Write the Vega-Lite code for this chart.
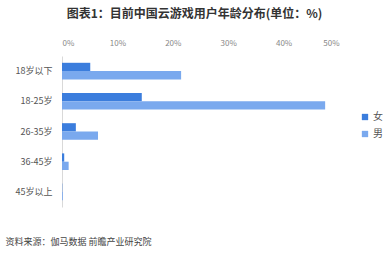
{
  "$schema": "https://vega.github.io/schema/vega-lite/v6.json",
  "width": 277,
  "height": 151,
  "autosize": {"type": "none"},
  "padding": {"left": 62, "top": 56, "right": 49, "bottom": 47},
  "background": "white",
  "title": {
    "text": "图表1：目前中国云游戏用户年龄分布(单位：%)",
    "font": "Noto Sans CJK SC",
    "fontSize": 12,
    "fontWeight": "bold",
    "color": "#333333",
    "anchor": "middle",
    "dx": -6,
    "offset": 18
  },
  "data": {
    "values": [
      {"age": "18岁以下", "sex": "女", "pct": 5.1},
      {"age": "18岁以下", "sex": "男", "pct": 21.5},
      {"age": "18-25岁", "sex": "女", "pct": 14.4},
      {"age": "18-25岁", "sex": "男", "pct": 47.5},
      {"age": "26-35岁", "sex": "女", "pct": 2.5},
      {"age": "26-35岁", "sex": "男", "pct": 6.5},
      {"age": "36-45岁", "sex": "女", "pct": 0.4},
      {"age": "36-45岁", "sex": "男", "pct": 1.2},
      {"age": "45岁以上", "sex": "女", "pct": 0.05},
      {"age": "45岁以上", "sex": "男", "pct": 0.15}
    ]
  },
  "mark": {"type": "bar"},
  "encoding": {
    "y": {
      "field": "age",
      "type": "nominal",
      "sort": ["18岁以下", "18-25岁", "26-35岁", "36-45岁", "45岁以上"],
      "scale": {"paddingInner": 0.45, "paddingOuter": 0.225},
      "axis": {
        "title": "资料来源：伽马数据 前瞻产业研究院",
        "titleAngle": 0,
        "titleX": -57,
        "titleY": 185,
        "titleAlign": "left",
        "titleBaseline": "middle",
        "titleFont": "Noto Sans CJK SC",
        "titleFontSize": 9,
        "titleFontWeight": "normal",
        "titleColor": "#444444",
        "labelFont": "Noto Sans CJK SC",
        "labelFontSize": 9,
        "labelColor": "#555555",
        "labelPadding": 10,
        "ticks": false,
        "domainColor": "#d9d9d9"
      }
    },
    "yOffset": {"field": "sex", "type": "nominal", "sort": ["女", "男"]},
    "x": {
      "field": "pct",
      "type": "quantitative",
      "scale": {"domain": [0, 50], "nice": false},
      "axis": {
        "orient": "top",
        "title": null,
        "values": [0, 10, 20, 30, 40, 50],
        "labelExpr": "datum.value + '%'",
        "labelFont": "Noto Sans CJK SC",
        "labelFontSize": 8,
        "labelColor": "#888888",
        "labelPadding": 9,
        "ticks": false,
        "domain": false,
        "grid": false
      }
    },
    "color": {
      "field": "sex",
      "type": "nominal",
      "sort": ["女", "男"],
      "scale": {"domain": ["女", "男"], "range": ["#3b7ddd", "#7aa9ee"]},
      "legend": {
        "title": null,
        "orient": "none",
        "legendX": 298,
        "legendY": 56,
        "symbolType": "square",
        "symbolSize": 40,
        "symbolStrokeWidth": 0,
        "labelFont": "Noto Sans CJK SC",
        "labelFontSize": 10,
        "labelColor": "#555555",
        "labelOffset": 3,
        "rowPadding": 7
      }
    }
  },
  "config": {"view": {"stroke": null}}
}
